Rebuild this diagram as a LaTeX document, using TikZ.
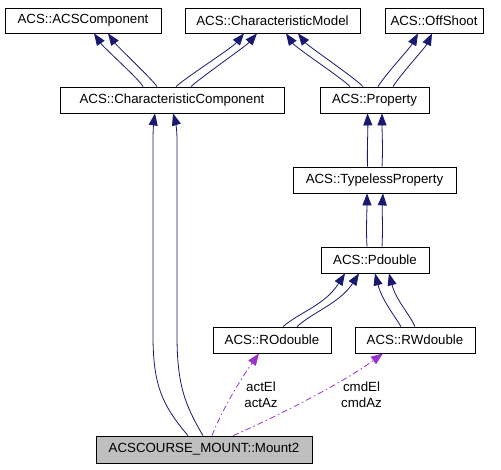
\documentclass[tikz,border=0pt]{standalone}
\usepackage{fontspec}
\setmainfont{Liberation Sans}
\usetikzlibrary{arrows.meta}
\definecolor{navy}{HTML}{191970}
\definecolor{orch}{HTML}{9A32CD}
\definecolor{boxgray}{HTML}{BFBFBF}
\tikzset{
  cls/.style={draw=black, line width=0.8pt, fill=white, inner sep=0pt, minimum height=26pt,
    font=\fontsize{13.3}{15}\selectfont},
  inh/.style={draw=navy, line width=0.8pt, -{Triangle[length=12pt,width=9pt]}, fill=none},
  use/.style={draw=orch, line width=0.8pt, dash pattern=on 6pt off 3pt on 1.5pt off 3pt,
    -{Triangle[length=12pt,width=9pt]}},
  lbl/.style={inner sep=0pt, align=center, font=\fontsize{13.3}{15.5}\selectfont}
}
\begin{document}
\begin{tikzpicture}[x=1pt,y=-1pt]
\useasboundingbox (0,0) rectangle (501,469);
\node[cls, minimum width=156pt, minimum height=25pt] (acs) at (83,20.5) {ACS::ACSComponent};
\node[cls, minimum width=175pt, minimum height=25pt] (cm) at (272.5,20.5) {ACS::CharacteristicModel};
\node[cls, minimum width=98pt, minimum height=25pt] (off) at (434,20.5) {ACS::OffShoot};
\node[cls, minimum width=224pt] (cc) at (172,100) {ACS::CharacteristicComponent};
\node[cls, minimum width=109pt] (prop) at (374.5,100) {ACS::Property};
\node[cls, minimum width=163pt] (tp) at (374.5,180) {ACS::TypelessProperty};
\node[cls, minimum width=108pt] (pd) at (375,260) {ACS::Pdouble};
\node[cls, minimum width=118pt] (ro) at (272,340) {ACS::ROdouble};
\node[cls, minimum width=120pt] (rw) at (415,340) {ACS::RWdouble};
\node[cls, fill=boxgray, minimum width=216pt, minimum height=27pt] (m2) at (204,449.5) {ACSCOURSE\_MOUNT::Mount2};

% CharacteristicComponent -> ACSComponent
\draw[inh] ([xshift=-29]cc.north) .. controls (140,80) and (104,48) .. ([xshift=11]acs.south);
\draw[inh] ([xshift=-15]cc.north) .. controls (153,80) and (117,46) .. ([xshift=25]acs.south);
% CharacteristicComponent -> CharacteristicModel
\draw[inh] ([xshift=4]cc.north) .. controls (185,78) and (232,48) .. ([xshift=-28.5]cm.south);
\draw[inh] ([xshift=19]cc.north) .. controls (200,78) and (246,46) .. ([xshift=-15.5]cm.south);
% Property -> CharacteristicModel
\draw[inh] ([xshift=-24.5]prop.north) .. controls (342,78) and (296,48) .. ([xshift=13.5]cm.south);
\draw[inh] ([xshift=-11.5]prop.north) .. controls (355,78) and (308,46) .. ([xshift=25.5]cm.south);
% Property -> OffShoot
\draw[inh] ([xshift=3.5]prop.north) .. controls (385,75) and (410,48) .. ([xshift=-16]off.south);
\draw[inh] ([xshift=18.5]prop.north) .. controls (400,75) and (425,48) .. ([xshift=-2]off.south);
% TypelessProperty -> Property
\draw[inh] ([xshift=-7]tp.north) .. controls (367,150) and (368,130) .. ([xshift=-7]prop.south);
\draw[inh] ([xshift=7.5]tp.north) .. controls (383,150) and (382,130) .. ([xshift=7.5]prop.south);
% Pdouble -> TypelessProperty
\draw[inh] ([xshift=-8]pd.north) .. controls (366,230) and (367,210) .. ([xshift=-7.5]tp.south);
\draw[inh] ([xshift=7]pd.north) .. controls (383,230) and (382,210) .. ([xshift=8.5]tp.south);
% ROdouble -> Pdouble
\draw[inh] ([xshift=11]ro.north) .. controls (300,312) and (325,305) .. ([xshift=-30]pd.south);
\draw[inh] ([xshift=25]ro.north) .. controls (313,312) and (340,303) .. ([xshift=-16]pd.south);
% RWdouble -> Pdouble
\draw[inh] ([xshift=-14]rw.north) .. controls (394,315) and (382,300) .. ([xshift=0]pd.south);
\draw[inh] ([xshift=0]rw.north) .. controls (410,315) and (396,300) .. ([xshift=14]pd.south);
% Mount2 -> CharacteristicComponent
\draw[inh] ([xshift=-16]m2.north) .. controls (162,405) and (153,385) .. (153,335) -- (153,140) .. controls (153,128) and (154,120) .. ([xshift=-17]cc.south);
\draw[inh] ([xshift=-1]m2.north) .. controls (185,405) and (177,385) .. (177,335) -- (177,140) .. controls (177,128) and (175,120) .. ([xshift=1]cc.south);
% Mount2 -> ROdouble / RWdouble (usage)
\draw[use] ([xshift=8]m2.north) .. controls (222,410) and (240,380) .. ([xshift=-13]ro.south);
\draw[use] ([xshift=29]m2.north) .. controls (265,422) and (340,385) .. ([xshift=-32]rw.south);
\node[lbl] (l1) at (261,394.5) {actEl\\actAz};
\node[lbl] (l2) at (361.5,394.5) {cmdEl\\cmdAz};
\end{tikzpicture}
\end{document}
